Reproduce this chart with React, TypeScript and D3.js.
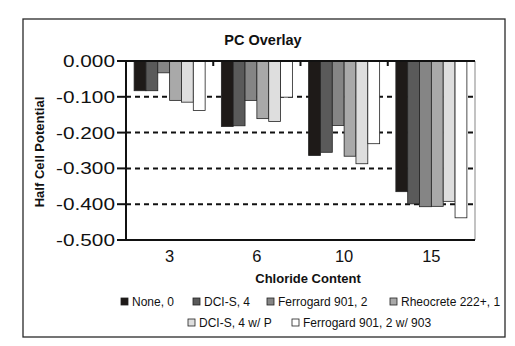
import React from "react";
import * as d3 from "d3";

const categories = ["3", "6", "10", "15"];
const seriesNames = [
  "None, 0",
  "DCI-S, 4",
  "Ferrogard 901, 2",
  "Rheocrete 222+, 1",
  "DCI-S, 4 w/ P",
  "Ferrogard 901, 2 w/ 903",
];
const seriesColors = ["#1e1a18", "#5a5a5a", "#858585", "#a9a9a9", "#dedede", "#ffffff"];
const noneValues = [-0.083, -0.183, -0.264, -0.365];
const dciValues = [-0.083, -0.181, -0.255, -0.399];
const ferroValues = [-0.033, -0.110, -0.180, -0.407];
const rheoValues = [-0.110, -0.161, -0.266, -0.406];
const dciPValues = [-0.115, -0.169, -0.287, -0.392];
const ferro903Values = [-0.138, -0.101, -0.231, -0.438];
const seriesValues = [noneValues, dciValues, ferroValues, rheoValues, dciPValues, ferro903Values];
const yTicks = [0, -0.1, -0.2, -0.3, -0.4, -0.5];

const font = "'Liberation Sans', Arial, sans-serif";

export default function App() {
  const left = 126, right = 475, top = 61, bottom = 240;
  const x0 = d3.scaleBand<string>().domain(categories).range([left, right]).paddingInner(0.186).paddingOuter(0.093);
  const x1 = d3.scaleBand<number>().domain(d3.range(seriesNames.length)).range([0, x0.bandwidth()]).padding(0);
  const y = d3.scaleLinear().domain([-0.5, 0]).range([bottom, top]);
  const fmt = (v: number) => d3.format(".3f")(v).replace("\u2212", "-");
  const step = x0.step();

  const legendItems = [
    { i: 0, x: 121, y: 306 },
    { i: 1, x: 193, y: 306 },
    { i: 2, x: 267, y: 306 },
    { i: 3, x: 390, y: 306 },
    { i: 4, x: 188, y: 327 },
    { i: 5, x: 292, y: 327 },
  ];

  return (
    <svg width={515} height={346} style={{ position: "absolute", left: 0, top: 0, background: "#fff" }} fontFamily={font}>
      <rect x={0} y={0} width={515} height={346} fill="#fff" />
      <rect x={23} y={19} width={482} height={318} fill="none" stroke="#2a2a2a" strokeWidth={1.3} />
      <text x={263} y={45} textAnchor="middle" fontSize={14.5} fontWeight="bold" fill="#111">PC Overlay</text>

      {yTicks.filter((t) => t < 0 && t > -0.5).map((t) => (
        <line key={t} x1={left} x2={right} y1={y(t)} y2={y(t)} stroke="#111" strokeWidth={2} strokeDasharray="5,4" />
      ))}

      {categories.map((c, ci) => (
        <g key={c}>
          {seriesValues.map((vals, si) => {
            const bx = (x0(c) as number) + (x1(si) as number);
            return (
              <rect key={si} x={bx} y={y(0)} width={x1.bandwidth()} height={y(vals[ci]) - y(0)}
                fill={seriesColors[si]} stroke="#222" strokeWidth={0.8} />
            );
          })}
        </g>
      ))}

      <line x1={right} x2={right} y1={top} y2={bottom} stroke="#9a9a9a" strokeWidth={1.2} />
      <line x1={117} x2={right} y1={top} y2={top} stroke="#111" strokeWidth={2} />
      {categories.slice(1).map((c) => (
        <line key={c} x1={x0(c)! - step * 0.093} x2={x0(c)! - step * 0.093} y1={top} y2={top + 5} stroke="#111" strokeWidth={2} />
      ))}
      <line x1={117} x2={right} y1={bottom} y2={bottom} stroke="#111" strokeWidth={2} />
      <line x1={left} x2={left} y1={top - 1} y2={bottom + 1} stroke="#111" strokeWidth={2} />
      {yTicks.map((t) => (
        <g key={t}>
          <line x1={117} x2={left} y1={y(t)} y2={y(t)} stroke="#111" strokeWidth={2} />
          <text transform={`translate(115,${y(t) + 6}) scale(1.3,1)`} textAnchor="end" fontSize={16} fill="#111">{fmt(t)}</text>
        </g>
      ))}

      {categories.map((c) => (
        <text key={c} x={(x0(c) as number) + x0.bandwidth() / 2} y={262} textAnchor="middle" fontSize={16.5} fill="#111">{c}</text>
      ))}
      <text x={308} y={283} textAnchor="middle" fontSize={13} fontWeight="bold" fill="#111">Chloride Content</text>
      <text transform="translate(44,152) rotate(-90)" textAnchor="middle" fontSize={13} fontWeight="bold" fill="#111">Half Cell Potential</text>

      {legendItems.map((l) => (
        <g key={l.i}>
          <rect x={l.x} y={l.y - 8} width={7} height={7} fill={seriesColors[l.i]} stroke="#222" strokeWidth={0.8} />
          <text x={l.x + 11} y={l.y} fontSize={12} fill="#111">{seriesNames[l.i]}</text>
        </g>
      ))}
    </svg>
  );
}
